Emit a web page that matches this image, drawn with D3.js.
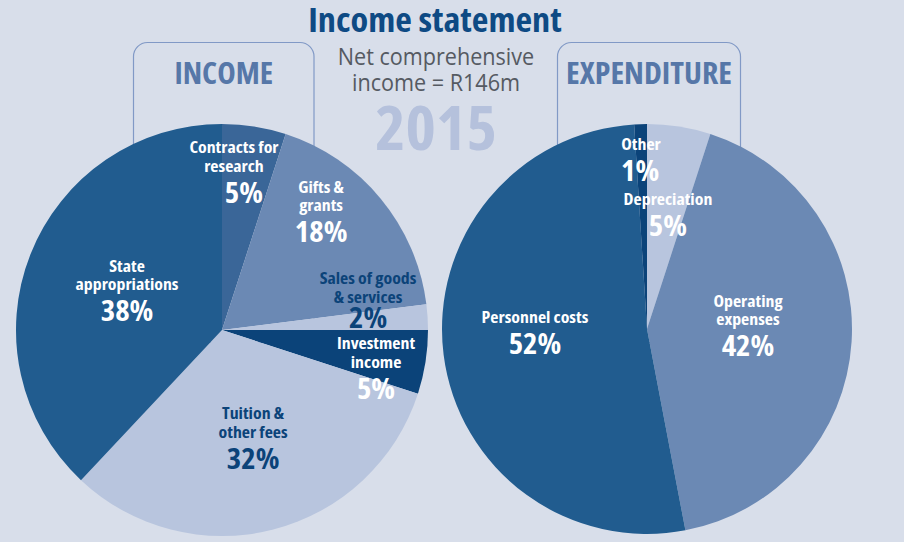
<!DOCTYPE html>
<html>
<head>
<meta charset="utf-8">
<script src="https://cdn.jsdelivr.net/npm/d3@7"></script>
<style>
  body { margin: 0; background: #d8deea; }
  svg text { font-family: "Open Sans", "Noto Sans", sans-serif; font-stretch: 75%; }
  svg text.sub { font-stretch: 100%; }
</style>
</head>
<body>
<svg id="chart" width="904" height="542"></svg>
<script>
// data
var incomeCategories = ["Contracts for\nresearch", "Gifts &\ngrants", "Sales of goods\n& services",
  "Investment\nincome", "Tuition &\nother fees", "State\nappropriations"];
var incomeValues = [5, 18, 2, 5, 32, 38];
var expenditureCategories = ["Depreciation", "Operating\nexpenses", "Personnel costs", "Other"];
var expenditureValues = [5, 42, 52, 1];

var titleText = "Income statement";
var subtitleLines = ["Net comprehensive", "income = R146m"];
var yearText = "2015";

// colours
var navy = "#0b4379", dark = "#215c8f", steel = "#3a6698", mid = "#6b89b4", pale = "#b8c5de";
var incomeColors = [steel, mid, pale, navy, pale, dark];
var incomeTextColors = ["#fff", "#fff", navy, "#fff", navy, "#fff"];
var expenditureColors = [pale, mid, dark, navy];
var expenditureTextColors = ["#fff", "#fff", "#fff", "#fff"];

// label placement: angle (deg, clockwise from top), radius fraction, optional tweaks
var incomeLabelPos = [
  {a: 9.8, r: 0.626, dx: -10}, {a: 48.4, r: 0.643}, {a: 89.2, r: 0.709, gap: 25},
  {a: 114.1, r: 0.819}, {a: 167.4, r: 0.691}, {a: 275.4, r: 0.463}
];
var expenditureLabelPos = [
  {a: 12.7, r: 0.465}, {a: 105, r: 0.51}, {a: 257.4, r: 0.56}, {a: 357.3, r: 0.723, dx: 1}
];

var svg = d3.select("#chart");

// widen/narrow a text run by factor k, keeping its anchor
function stretch(sel, k){
  sel.each(function(){
    var len = this.getComputedTextLength();
    d3.select(this).attr("textLength", len * k).attr("lengthAdjust", "spacingAndGlyphs");
  });
}

// header boxes
function headBox(x, w, label, k){
  svg.append("rect")
    .attr("x", x).attr("y", 42.5)
    .attr("width", w).attr("height", 300)
    .attr("rx", 14)
    .attr("fill", "none")
    .attr("stroke", "#8199c6")
    .attr("stroke-width", 1.2);
  svg.append("text")
    .attr("x", x + w / 2).attr("y", 84)
    .attr("text-anchor", "middle")
    .attr("font-size", 30).attr("font-weight", 700)
    .attr("fill", "#5677a8")
    .text(label)
    .call(stretch, k);
}
headBox(133.5, 180.5, "INCOME", 1.04);
headBox(557.5, 183, "EXPENDITURE", 1.065);

svg.append("text")
  .attr("x", 435).attr("y", 32)
  .attr("text-anchor", "middle")
  .attr("font-size", 33).attr("font-weight", 700)
  .attr("fill", "#0e4a84")
  .text(titleText)
  .call(stretch, 1.1);

svg.selectAll(".sub")
  .data(subtitleLines)
  .enter().append("text")
    .attr("class", "sub")
    .attr("x", 436)
    .attr("y", (d, i) => 65 + i * 26)
    .attr("text-anchor", "middle")
    .attr("font-size", 24)
    .attr("fill", "#555a62")
    .text(d => d)
    .call(stretch, 0.9);

svg.append("text")
  .attr("x", 436).attr("y", 150)
  .attr("text-anchor", "middle")
  .attr("font-size", 60).attr("font-weight", 700)
  .attr("fill", "#b5c1dc")
  .text(yearText)
  .call(stretch, 1.08);

function drawPie(cx, cy, radius, cats, vals, colors, textColors, pos){
  var data = cats.map((c, i) => ({name: c, value: vals[i], color: colors[i], tc: textColors[i], pos: pos[i]}));
  var pie = d3.pie().sort(null).value(d => d.value);
  var arc = d3.arc().innerRadius(0).outerRadius(radius);
  var g = svg.append("g").attr("transform", "translate(" + cx + "," + cy + ")");

  g.selectAll(".slice")
    .data(pie(data))
    .enter().append("path")
      .attr("class", "slice")
      .attr("d", arc)
      .attr("fill", d => d.data.color);

  var lab = g.selectAll(".lab")
    .data(data)
    .enter().append("g")
      .attr("class", "lab")
      .attr("transform", d => {
        var t = d.pos.a * Math.PI / 180, rr = d.pos.r * radius;
        return "translate(" + (rr * Math.sin(t)) + "," + (-rr * Math.cos(t)) + ")";
      });

  lab.append("text")
    .attr("text-anchor", "middle")
    .attr("font-size", 28).attr("font-weight", 700)
    .attr("fill", d => d.tc)
    .text(d => d.value + "%")
    .call(stretch, 1.1);

  lab.each(function(d){
    var lines = d.name.split("\n");
    var gap = d.pos.gap || 31;
    d3.select(this).selectAll(".nm")
      .data(lines)
      .enter().append("text")
        .attr("class", "nm")
        .attr("x", d.pos.dx || 0)
        .attr("y", (l, i) => -gap - (lines.length - 1 - i) * 18.5)
        .attr("text-anchor", "middle")
        .attr("font-size", 16.5).attr("font-weight", 700)
        .attr("fill", d.tc)
        .text(l => l)
        .call(stretch, 1.08);
  });
}

drawPie(222, 330, 206, incomeCategories, incomeValues, incomeColors, incomeTextColors, incomeLabelPos);
drawPie(647, 329, 205, expenditureCategories, expenditureValues, expenditureColors, expenditureTextColors, expenditureLabelPos);
</script>
</body>
</html>
